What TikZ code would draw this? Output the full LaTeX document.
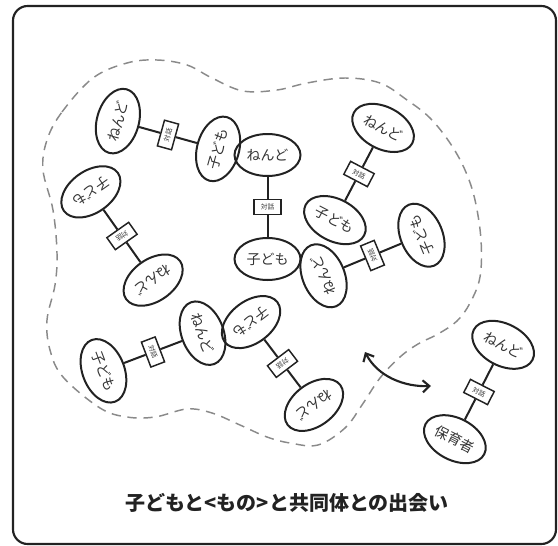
\documentclass[tikz,border=0pt]{standalone}
\usepackage{fontspec}
\newfontfamily\cjk{Noto Sans CJK JP}
\usetikzlibrary{shapes.geometric,arrows.meta}
\definecolor{ink}{HTML}{222222}
\definecolor{txt}{HTML}{333333}
\definecolor{dashgray}{HTML}{8A8A8A}
\tikzset{
 ell/.style={ellipse, draw=ink, line width=1.5pt, minimum width=49.5pt, minimum height=31.5pt, inner sep=0pt, text=txt, font=\cjk\fontsize{10.5}{12}\selectfont},
 talkbox/.style={rectangle, draw=ink, fill=white, line width=1.1pt, minimum width=20pt, minimum height=11pt, inner sep=0pt, text=txt, font=\cjk\fontsize{5}{6}\selectfont},
 bond/.style={draw=ink, line width=1.5pt},
 dashcurve/.style={draw=dashgray, line width=1.1pt, dash pattern=on 7pt off 5pt},
 frame/.style={draw=ink, line width=1.6pt, rounded corners=11pt},
 swing/.style={draw=ink, line width=1.6pt, {Straight Barb[length=5pt,width=9pt]}-{Straight Barb[length=5pt,width=9pt]}},
}
\newcommand{\unitpair}[7]{%
 \begin{scope}[shift={(#2,#3)}, rotate=#4, transform shape]
  \node[ell] (#1a) at (0,-#7) {#5};
  \node[talkbox] (#1m) at (0,0) {対話};
  \node[ell] (#1b) at (0,#7) {#6};
  \draw[bond] (#1a) -- (#1m);
  \draw[bond] (#1m) -- (#1b);
 \end{scope}}
\begin{document}
\begin{tikzpicture}[x=0.75pt,y=-0.75pt]
\useasboundingbox (0,0) rectangle (558,546);
\draw[frame] (13,6) rectangle (556,544);
\draw[dashcurve] plot[smooth cycle, tension=0.6] coordinates {
 (47,140) (62,112) (93,78) (127,63) (157,60) (187,65) (212,78) (243,91) (277,90) (307,83) (345,78) (380,83) (407,100) (430,118) (450,143) (465,170) (475,200) (481,240) (480,277) (470,303) (457,321) (438,334) (418,344) (400,357) (380,378) (362,405) (345,428) (318,445) (290,443) (267,437) (240,425) (212,413) (187,409) (155,417) (127,417) (100,408) (63,377) (50,350) (47,320) (55,285) (57,253) (53,210) (43,170)};
\unitpair{p1}{168}{135}{74.5}{ねんど}{子ども}{52}
\unitpair{p2}{267.5}{207}{0}{ねんど}{子ども}{52}
\unitpair{p3}{359}{174}{-27.6}{ねんど}{子ども}{52}
\unitpair{p4}{372.5}{255.5}{112.5}{ねんど}{子ども}{53}
\unitpair{p5}{153}{352}{-69.2}{ねんど}{子ども}{53}
\unitpair{p6}{282.5}{363.5}{-142.8}{ねんど}{子ども}{52}
\unitpair{p7}{122}{236}{-144.8}{ねんど}{子ども}{54}
\unitpair{p8}{479}{392}{-27.1}{ねんど}{保育者}{53}
\coordinate (sw1) at (365,352);
\coordinate (sw2) at (431,386);
\draw[swing] (sw1) .. controls (378,377) and (405,387) .. (sw2);
\node[font=\cjk\bfseries\fontsize{15}{17}\selectfont, text=ink] (title) at (287,503) {子どもと<もの>と共同体との出会い};
\end{tikzpicture}
\end{document}
